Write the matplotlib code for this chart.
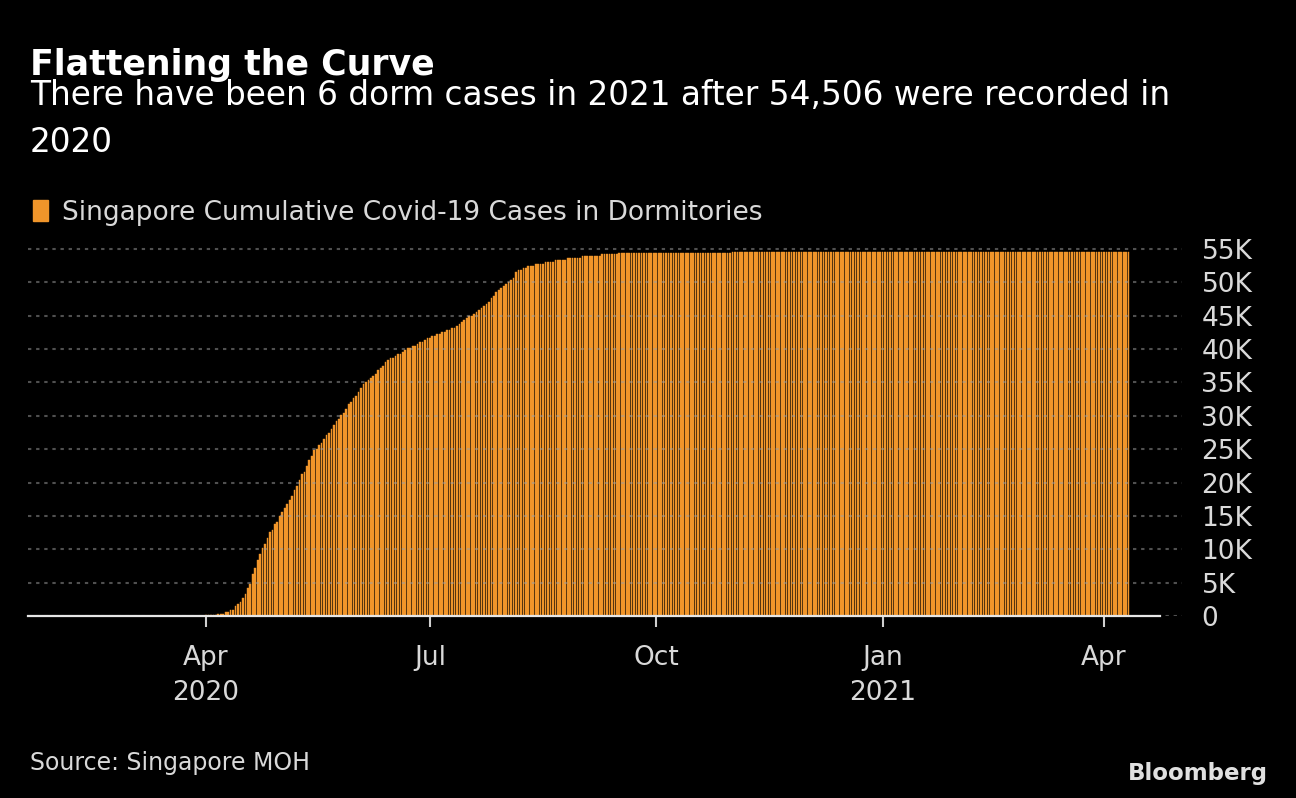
import matplotlib
matplotlib.use("Agg")
import matplotlib.pyplot as plt
import matplotlib.dates as mdates
import pandas as pd

# Singapore cumulative Covid-19 cases in dormitories, daily, 2020-02-01 .. 2021-04-11
start_date = "2020-02-01"
feb_2020 = [20] * 29
mar_2020 = [40] * 15 + [60] * 16
apr_2020 = [100, 100, 100, 100, 100,
            300, 300, 300, 600, 600, 900, 900, 1500, 1800, 2100, 2700, 3300, 4200, 4800,
            6300, 7200, 8400, 9300, 10200, 10800, 11700, 12600, 12900, 13800, 14100]
may_2020 = [15000, 15600, 16200, 16800, 17400, 18000, 18900, 19500, 20400, 21300,
            21600, 22500, 23400, 24000, 24900, 25100, 25700, 26000, 26600, 27200,
            27500, 28100, 28700, 29300, 29600, 30200, 30500, 31100, 31700, 32000, 32600]
jun_2020 = [32900, 33500, 34100, 34700, 35000, 35300, 35600, 35900, 36200, 36800,
            37100, 37400, 38000, 38300, 38600, 38600, 38900, 39200, 39200, 39500,
            39800, 40100, 40100, 40400, 40400, 40700, 41000, 41000, 41300, 41600]
jul_2020 = [41600, 41900, 41900, 42200, 42200, 42500, 42500, 42800, 42800, 43100,
            43100, 43400, 43700, 44000, 44300, 44600, 44900, 44900, 45200, 45500,
            45800, 46100, 46400, 46700, 47000, 47600, 47900, 48500, 48800, 49100, 49400]
aug_2020 = [49700, 50000, 50300, 50600, 51500, 51800, 51800, 52100, 52100, 52400,
            52400, 52400, 52700, 52700, 52700, 52700] + [53000] * 4 + [53300] * 5 + [53600] * 6
sep_2020 = [53900] * 8 + [54200] * 7 + [54420] * 15
oct_2020 = [54470] * 31
nov_2020 = [54495] * 30
dec_2020 = [54506] * 31
jan_2021 = [54507] * 31
feb_2021 = [54509] * 28
mar_2021 = [54511] * 31
apr_2021 = [54512] * 11

cases = (feb_2020 + mar_2020 + apr_2020 + may_2020 + jun_2020 + jul_2020 + aug_2020
         + sep_2020 + oct_2020 + nov_2020 + dec_2020
         + jan_2021 + feb_2021 + mar_2021 + apr_2021)
dates = pd.date_range(start_date, periods=len(cases), freq="D")

tick_dates = pd.to_datetime(["2020-04-01", "2020-07-01", "2020-10-01", "2021-01-01", "2021-04-01"])
tick_labels = ["Apr\n2020", "Jul", "Oct", "Jan\n2021", "Apr"]
y_ticks = list(range(0, 55001, 5000))
y_labels = ["0"] + ["%dK" % (v // 1000) for v in y_ticks[1:]]

orange = "#f0952a"
fg = "#d9d9d9"
W, H = 1296, 798

fig = plt.figure(figsize=(W / 100, H / 100), dpi=100, facecolor="black")
ax = fig.add_axes([28 / W, 1 - 616 / H, (1182 - 28) / W, (616 - 240) / H])
ax.set_facecolor("black")

ax.bar(dates, cases, width=0.7, color=orange, edgecolor=orange, linewidth=0.3, zorder=1)

# x range: ~72 days before Apr 2020 tick, ~32 days past Apr 2021 tick
x_left = mdates.date2num(pd.Timestamp("2020-04-01")) - 72.35
x_right = mdates.date2num(pd.Timestamp("2021-04-01")) + 31.7
axis_end = mdates.date2num(pd.Timestamp("2021-04-01")) + 22.8
ax.set_xlim(x_left, x_right)
ax.set_ylim(0, 5000 * 376 / 33.36)

for s in ["top", "left", "right"]:
    ax.spines[s].set_visible(False)
ax.spines["bottom"].set_color("#e6e6e6")
ax.spines["bottom"].set_linewidth(1.6)
ax.spines["bottom"].set_bounds(x_left, axis_end)
ax.spines["bottom"].set_zorder(3)

ax.set_xticks(tick_dates)
ax.set_xticklabels(tick_labels, fontsize=19, color=fg, linespacing=1.42)
ax.tick_params(axis="x", length=8, width=1.5, color="#cfcfcf", pad=13)

ax.yaxis.tick_right()
ax.set_yticks(y_ticks)
ax.set_yticklabels(y_labels, fontsize=19, color=fg)
ax.tick_params(axis="y", length=0, pad=14)

ax.set_axisbelow(False)
ax.yaxis.grid(True, color="#a0a0a0", alpha=0.5, linewidth=1.5, linestyle=(0, (1.6, 2.3)))
ax.xaxis.grid(False)

fig.text(30 / W, 1 - 75 / H, "Flattening the Curve", fontsize=25, weight="bold",
         color="white", va="baseline")
fig.text(30 / W, 1 - 105 / H, "There have been 6 dorm cases in 2021 after 54,506 were recorded in",
         fontsize=23.6, color="white", va="baseline")
fig.text(30 / W, 1 - 152 / H, "2020", fontsize=23.6, color="white", va="baseline")
fig.text(62 / W, 1 - 220 / H, "Singapore Cumulative Covid-19 Cases in Dormitories",
         fontsize=19, color=fg, va="baseline")
fig.patches.append(plt.Rectangle((33 / W, 1 - 221 / H), 15 / W, 21 / H,
                                 transform=fig.transFigure, color=orange))
fig.text(30 / W, 1 - 770 / H, "Source: Singapore MOH", fontsize=17, color=fg, va="baseline")
fig.text(1268 / W, 1 - 780 / H, "Bloomberg", fontsize=16.5, weight="bold", color="#e0e0e0",
         ha="right", va="baseline")

fig.savefig("out.png", dpi=100, facecolor="black")
